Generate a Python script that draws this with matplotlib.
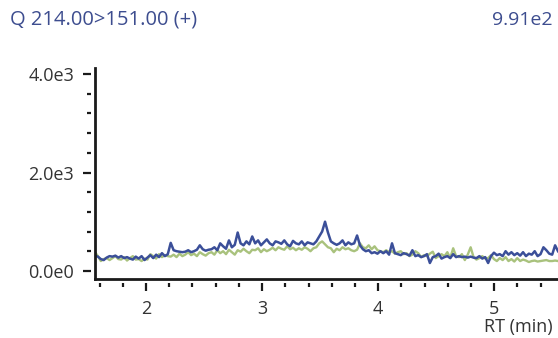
# MRM trace plot: Q 214.00>151.00 (+)

import matplotlib
matplotlib.use('Agg')
import matplotlib.pyplot as plt
from matplotlib.ticker import MultipleLocator, FuncFormatter
import numpy as np

plt.rcParams['font.family'] = ['Open Sans', 'DejaVu Sans']

title = 'Q 214.00>151.00 (+)'
max_label = '9.91e2'
x_label = 'RT (min)'

# retention time grid of the scans (min)
rt = np.linspace(1.56, 5.55, 160)

# intensity of the two traces (counts)
blue = [310, 290, 240, 220, 270, 300, 290, 310, 270, 300, 260, 280, 250, 230, 290, 250, 300, 220, 270, 320,
        260, 330, 280, 360, 300, 340, 570, 420, 400, 390, 380, 390, 420, 380, 400, 430, 520, 440, 410, 430,
        440, 480, 420, 560, 500, 450, 620, 480, 530, 780, 560, 520, 600, 540, 700, 560, 620, 520, 580, 640,
        560, 520, 600, 580, 550, 620, 540, 500, 610, 560, 540, 600, 520, 580, 560, 540, 600, 700, 800, 1000,
        780, 600, 560, 530, 560, 620, 520, 580, 540, 560, 720, 520, 440, 400, 420, 360, 380, 350, 400, 360,
        400, 330, 560, 360, 340, 320, 360, 340, 310, 420, 300, 320, 280, 300, 340, 160, 280, 300, 350, 250,
        280, 300, 260, 340, 280, 300, 280, 290, 270, 290, 270, 260, 300, 250, 280, 160, 300, 370, 320, 340,
        300, 400, 330, 380, 320, 360, 310, 380, 300, 350, 330, 400, 300, 340, 480, 420, 350, 330, 520, 400]
green = [380, 300, 200, 240, 260, 220, 260, 300, 240, 230, 280, 210, 260, 300, 230, 240, 200, 250, 230, 340,
         300, 250, 340, 280, 320, 300, 290, 330, 280, 350, 300, 330, 380, 320, 350, 300, 380, 340, 310, 360,
         380, 330, 420, 360, 400, 340, 430, 380, 330, 420, 390, 450, 400, 360, 430, 420, 460, 380, 440, 400,
         430, 470, 420, 480, 450, 430, 500, 440, 470, 420, 460, 430, 480, 450, 400, 460, 480, 560, 600, 540,
         480, 460, 380, 450, 420, 480, 440, 460, 420, 400, 430, 560, 480, 460, 520, 440, 500, 420, 400, 380,
         420, 380, 400, 350, 380, 400, 340, 360, 300, 330, 400, 360, 280, 320, 300, 350, 390, 260, 300, 340,
         300, 380, 260, 460, 300, 280, 340, 220, 330, 480, 280, 230, 260, 300, 250, 260, 320, 240, 200, 260,
         220, 280, 200, 240, 190, 260, 200, 230, 210, 180, 200, 210, 190, 200, 210, 220, 200, 200, 210, 200]

text_color = '#3d4d8f'
label_color = '#333333'
axis_color = '#1a1a1a'

fig = plt.figure(figsize=(5.58, 3.38), dpi=100)
ax = fig.add_axes([95 / 558, 59 / 338, 463 / 558, 211 / 338])

ax.plot(rt, green, color='#a9c27d', lw=1.7)
ax.plot(rt, blue, color='#3b4f99', lw=1.8)

ax.set_xlim(1.56, 5.55)
ax.set_ylim(-165, 4125)

ax.xaxis.set_major_locator(MultipleLocator(1))
ax.xaxis.set_minor_locator(MultipleLocator(0.2))
ax.yaxis.set_major_locator(MultipleLocator(2000))
ax.yaxis.set_minor_locator(MultipleLocator(400))
ax.yaxis.set_major_formatter(FuncFormatter(lambda v, p: '%.1fe%d' % (v / 10 ** int(np.log10(v)), int(np.log10(v))) if v > 0 else '0.0e0'))
ax.xaxis.set_major_formatter(FuncFormatter(lambda v, p: '%d' % v))

# ticks sit a little away from the axis lines
for side in ['top', 'right']:
    ax.spines[side].set_visible(False)
for side in ['left', 'bottom']:
    ax.spines[side].set_position(('outward', 3))
    ax.spines[side].set_visible(False)
ax.plot([0, 0], [0, 1], transform=ax.transAxes, color=axis_color, lw=2, clip_on=False, solid_capstyle='projecting')
ax.plot([0, 1], [0, 0], transform=ax.transAxes, color=axis_color, lw=2, clip_on=False, solid_capstyle='projecting')

ax.tick_params(which='major', length=6, width=1.6, color=axis_color, labelsize=13, labelcolor=label_color, pad=6)
ax.tick_params(which='minor', length=3, width=1.6, color=axis_color)

fig.text(10 / 558, 1 - 20 / 338, title, color=text_color, fontsize=14.5, va='center', ha='left')
fig.text(553 / 558, 1 - 20 / 338, max_label, color=text_color, fontsize=14, va='center', ha='right')
fig.text(553 / 558, 1 - 327 / 338, x_label, color=label_color, fontsize=13, va='center', ha='right')

plt.savefig('out.png', dpi=100)
